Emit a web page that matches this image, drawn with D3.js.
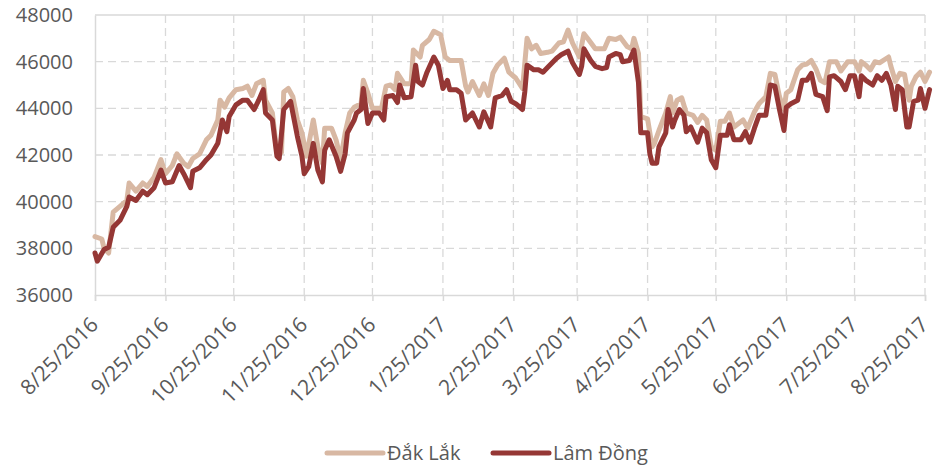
<!DOCTYPE html>
<html><head><meta charset="utf-8">
<script src="https://cdn.jsdelivr.net/npm/d3@7"></script>
<style>body{margin:0;background:#fff}text{font-family:"Open Sans",sans-serif}</style>
</head><body>
<svg id="c" width="936" height="468"></svg>
<script>
const seriesNames = ["Đắk Lắk", "Lâm Đồng"];
const seriesColors = ["#D8B8A3", "#953735"];
const yTicks = [36000, 38000, 40000, 42000, 44000, 46000, 48000];
const xTickDates = ["2016-08-25","2016-09-25","2016-10-25","2016-11-25","2016-12-25","2017-01-25","2017-02-25","2017-03-25","2017-04-25","2017-05-25","2017-06-25","2017-07-25","2017-08-25"];
const xTickLabels = ["8/25/2016","9/25/2016","10/25/2016","11/25/2016","12/25/2016","1/25/2017","2/25/2017","3/25/2017","4/25/2017","5/25/2017","6/25/2017","7/25/2017","8/25/2017"];

const dakLakDates = ["2016-08-25","2016-08-28","2016-08-29","2016-08-31","2016-09-02","2016-09-05","2016-09-08","2016-09-09","2016-09-12","2016-09-15","2016-09-17","2016-09-20","2016-09-23","2016-09-25","2016-09-28","2016-09-30","2016-10-03","2016-10-05","2016-10-07","2016-10-10","2016-10-13","2016-10-15","2016-10-18","2016-10-19","2016-10-21","2016-10-23","2016-10-26","2016-10-29","2016-10-31","2016-11-02","2016-11-04","2016-11-07","2016-11-08","2016-11-11","2016-11-13","2016-11-15","2016-11-16","2016-11-18","2016-11-20","2016-11-22","2016-11-24","2016-11-26","2016-11-29","2016-12-01","2016-12-03","2016-12-04","2016-12-07","2016-12-09","2016-12-11","2016-12-13","2016-12-15","2016-12-17","2016-12-20","2016-12-21","2016-12-23","2016-12-25","2016-12-29","2016-12-31","2017-01-02","2017-01-04","2017-01-05","2017-01-08","2017-01-11","2017-01-12","2017-01-15","2017-01-16","2017-01-19","2017-01-21","2017-01-24","2017-01-26","2017-01-28","2017-02-02","2017-02-04","2017-02-05","2017-02-07","2017-02-10","2017-02-12","2017-02-14","2017-02-16","2017-02-18","2017-02-21","2017-02-23","2017-02-26","2017-03-01","2017-03-03","2017-03-05","2017-03-07","2017-03-09","2017-03-12","2017-03-14","2017-03-17","2017-03-19","2017-03-21","2017-03-23","2017-03-26","2017-03-28","2017-03-30","2017-04-02","2017-04-06","2017-04-08","2017-04-11","2017-04-13","2017-04-16","2017-04-18","2017-04-19","2017-04-21","2017-04-22","2017-04-25","2017-04-27","2017-04-28","2017-04-30","2017-05-03","2017-05-05","2017-05-06","2017-05-08","2017-05-10","2017-05-12","2017-05-15","2017-05-17","2017-05-19","2017-05-21","2017-05-23","2017-05-25","2017-05-27","2017-05-29","2017-05-31","2017-06-02","2017-06-06","2017-06-08","2017-06-11","2017-06-13","2017-06-16","2017-06-18","2017-06-20","2017-06-22","2017-06-24","2017-06-25","2017-06-27","2017-06-30","2017-07-02","2017-07-04","2017-07-06","2017-07-08","2017-07-10","2017-07-12","2017-07-14","2017-07-17","2017-07-19","2017-07-22","2017-07-25","2017-07-27","2017-07-28","2017-07-30","2017-08-01","2017-08-03","2017-08-05","2017-08-09","2017-08-10","2017-08-12","2017-08-14","2017-08-16","2017-08-18","2017-08-19","2017-08-21","2017-08-23","2017-08-25","2017-08-27"];
const dakLakValues = [38500,38400,38000,37800,39550,39800,40050,40800,40450,40800,40650,41050,41800,41200,41550,42050,41650,41500,41850,42050,42650,42850,43500,44350,44050,44450,44800,44850,44950,44550,45050,45200,44350,43800,42100,42100,44700,44850,44500,43500,42950,41950,43500,42350,41650,43150,43150,42650,41800,42950,43800,44050,44200,45200,44650,44000,44000,44950,45000,44800,45500,45050,45050,46500,46200,46700,46950,47300,47150,46200,46050,46050,44950,44700,45150,44550,45050,44550,45500,45850,46150,45550,45300,44850,47000,46550,46700,46350,46400,46450,46800,46850,47350,46800,46200,47200,46950,46550,46550,47000,46950,47050,46650,46550,47000,46350,43650,43550,42350,42500,43050,43800,44500,43800,44350,44450,43800,43700,43400,43700,43500,42350,42200,43450,43450,43800,43200,43500,43150,43850,44200,44500,45500,45450,44500,43950,44650,44800,45650,45850,45900,46050,45700,45200,45100,46000,46000,45600,46000,46000,45600,46000,45850,45650,46000,45950,46200,45800,45150,45500,45450,44350,44950,45350,45550,45150,45550];

const lamDongDates = ["2016-08-25","2016-08-26","2016-08-29","2016-08-31","2016-09-02","2016-09-05","2016-09-08","2016-09-09","2016-09-12","2016-09-15","2016-09-17","2016-09-20","2016-09-23","2016-09-25","2016-09-28","2016-10-01","2016-10-03","2016-10-06","2016-10-07","2016-10-10","2016-10-13","2016-10-15","2016-10-18","2016-10-20","2016-10-22","2016-10-23","2016-10-26","2016-10-29","2016-10-31","2016-11-03","2016-11-05","2016-11-07","2016-11-08","2016-11-11","2016-11-13","2016-11-14","2016-11-16","2016-11-19","2016-11-20","2016-11-22","2016-11-24","2016-11-25","2016-11-27","2016-11-29","2016-12-01","2016-12-03","2016-12-04","2016-12-06","2016-12-09","2016-12-11","2016-12-13","2016-12-14","2016-12-17","2016-12-18","2016-12-20","2016-12-21","2016-12-23","2016-12-25","2016-12-28","2016-12-30","2016-12-31","2017-01-03","2017-01-05","2017-01-06","2017-01-08","2017-01-11","2017-01-13","2017-01-14","2017-01-16","2017-01-18","2017-01-21","2017-01-23","2017-01-25","2017-01-27","2017-01-28","2017-01-31","2017-02-02","2017-02-04","2017-02-07","2017-02-10","2017-02-12","2017-02-15","2017-02-17","2017-02-20","2017-02-22","2017-02-24","2017-02-26","2017-03-01","2017-03-02","2017-03-03","2017-03-06","2017-03-08","2017-03-10","2017-03-12","2017-03-16","2017-03-18","2017-03-21","2017-03-23","2017-03-26","2017-03-27","2017-03-28","2017-03-31","2017-04-02","2017-04-05","2017-04-07","2017-04-08","2017-04-11","2017-04-13","2017-04-14","2017-04-17","2017-04-19","2017-04-21","2017-04-22","2017-04-25","2017-04-26","2017-04-27","2017-04-29","2017-04-30","2017-05-03","2017-05-04","2017-05-06","2017-05-07","2017-05-09","2017-05-11","2017-05-12","2017-05-14","2017-05-17","2017-05-19","2017-05-21","2017-05-23","2017-05-25","2017-05-27","2017-05-30","2017-05-31","2017-06-02","2017-06-05","2017-06-07","2017-06-09","2017-06-11","2017-06-13","2017-06-16","2017-06-18","2017-06-20","2017-06-22","2017-06-24","2017-06-25","2017-06-27","2017-06-30","2017-07-02","2017-07-04","2017-07-06","2017-07-08","2017-07-11","2017-07-13","2017-07-14","2017-07-16","2017-07-19","2017-07-21","2017-07-23","2017-07-25","2017-07-27","2017-07-28","2017-07-30","2017-08-02","2017-08-04","2017-08-06","2017-08-08","2017-08-10","2017-08-12","2017-08-13","2017-08-15","2017-08-17","2017-08-18","2017-08-20","2017-08-22","2017-08-23","2017-08-25","2017-08-27"];
const lamDongValues = [37800,37450,37950,38050,38900,39200,39800,40200,40050,40450,40300,40600,41350,40800,40850,41550,41200,40600,41300,41450,41800,42000,42500,43500,43000,43650,44150,44350,44350,43950,44350,44800,43800,43500,41950,41850,43950,44300,43800,42800,41950,41200,41500,42500,41350,40850,42200,42650,41950,41300,42050,42950,43500,43800,43950,44850,43350,43800,43800,43500,44500,44550,44250,45000,44450,44500,45850,45150,45000,45550,46200,45850,44850,45200,44800,44800,44650,43500,43800,43200,43850,43200,44450,44550,44800,44300,44200,43950,44700,45850,45650,45650,45550,45750,46150,46300,46450,45950,45450,45800,46550,46050,45800,45700,45750,46200,46350,46300,46000,46050,46500,45100,42950,42950,42050,41650,41650,42350,42950,43950,43200,43500,43950,43700,43000,43200,42550,43150,42950,41800,41450,42850,42850,43300,42650,42650,43000,42550,43150,43700,43700,45000,44950,43950,43050,44050,44200,44350,45200,45200,45500,44600,44500,43900,45350,45400,45150,44800,45400,45400,44500,45400,45200,45000,45400,45200,45500,45000,43950,44950,44800,43200,43200,44300,44350,44850,44000,44800];

const W = 936, H = 468;
const m = {left: 95, right: 11, top: 15, bottom: 173};
const parse = d3.timeParse("%Y-%m-%d");
const svg = d3.select("#c");
const grid = "#D9D9D9", textCol = "#595959";
const fs = 20, fsX = 21;

const x = d3.scaleTime()
  .domain([parse(xTickDates[0]), parse(xTickDates[xTickDates.length - 1])])
  .range([m.left, W - m.right]);
const y = d3.scaleLinear().domain([yTicks[0], yTicks[yTicks.length - 1]]).range([H - m.bottom, m.top]);

// horizontal grid
svg.append("g").selectAll("line").data(yTicks.slice(1, -1)).join("line")
  .attr("x1", m.left).attr("x2", W - m.right)
  .attr("y1", d => y(d)).attr("y2", d => y(d))
  .attr("stroke", grid).attr("stroke-width", 1.3).attr("stroke-dasharray", "8,5");
// top border solid
svg.append("line").attr("x1", m.left).attr("x2", W - m.right)
  .attr("y1", y(yTicks[yTicks.length - 1])).attr("y2", y(yTicks[yTicks.length - 1]))
  .attr("stroke", grid).attr("stroke-width", 1.5);
// vertical grid
svg.append("g").selectAll("line").data(xTickDates.slice(1)).join("line")
  .attr("x1", d => x(parse(d))).attr("x2", d => x(parse(d)))
  .attr("y1", m.top).attr("y2", H - m.bottom)
  .attr("stroke", grid).attr("stroke-width", 1.3).attr("stroke-dasharray", "8,5");

// axes
const xAxis = d3.axisBottom(x).tickValues(xTickDates.map(parse))
  .tickFormat((d, i) => xTickLabels[i]).tickSize(6).tickPadding(6);
const gx = svg.append("g").attr("transform", `translate(0,${H - m.bottom})`).call(xAxis);
gx.select(".domain").attr("stroke", grid).attr("stroke-width", 1.5);
gx.selectAll(".tick line").attr("stroke", grid).attr("stroke-width", 1.5);
gx.selectAll(".tick text")
  .attr("fill", textCol).attr("font-size", fsX).attr("font-family", "Open Sans")
  .attr("text-anchor", "end").attr("dy", null)
  .attr("transform", "translate(4,31) rotate(-45)").attr("y", 0).attr("x", 0);

const yAxis = d3.axisLeft(y).tickValues(yTicks).tickFormat(d => String(d)).tickSize(0).tickPadding(22);
const gy = svg.append("g").attr("transform", `translate(${m.left},0)`).call(yAxis);
gy.select(".domain").attr("stroke", grid).attr("stroke-width", 1.5);
gy.selectAll(".tick text").attr("fill", textCol).attr("font-size", fs).attr("font-family", "Open Sans");

// lines
const line = d3.line().x(d => x(d.date)).y(d => y(d.value)).curve(d3.curveLinear);
const series = [
  dakLakDates.map((d, i) => ({date: parse(d), value: dakLakValues[i]})),
  lamDongDates.map((d, i) => ({date: parse(d), value: lamDongValues[i]}))
];
series.forEach((s, i) => {
  svg.append("path").datum(s).attr("d", line)
    .attr("fill", "none").attr("stroke", seriesColors[i]).attr("stroke-width", 5)
    .attr("stroke-linejoin", "round").attr("stroke-linecap", "round");
});

// legend
const legendX = [327, 493];
seriesNames.forEach((n, i) => {
  const g = svg.append("g").attr("transform", `translate(${legendX[i]},453)`);
  g.append("line").attr("x1", 0).attr("x2", 56).attr("y1", 0).attr("y2", 0)
    .attr("stroke", seriesColors[i]).attr("stroke-width", 5).attr("stroke-linecap", "round");
  g.append("text").attr("x", 60).attr("y", 7).attr("fill", textCol).attr("font-size", fs).text(n);
});
</script>
</body></html>
